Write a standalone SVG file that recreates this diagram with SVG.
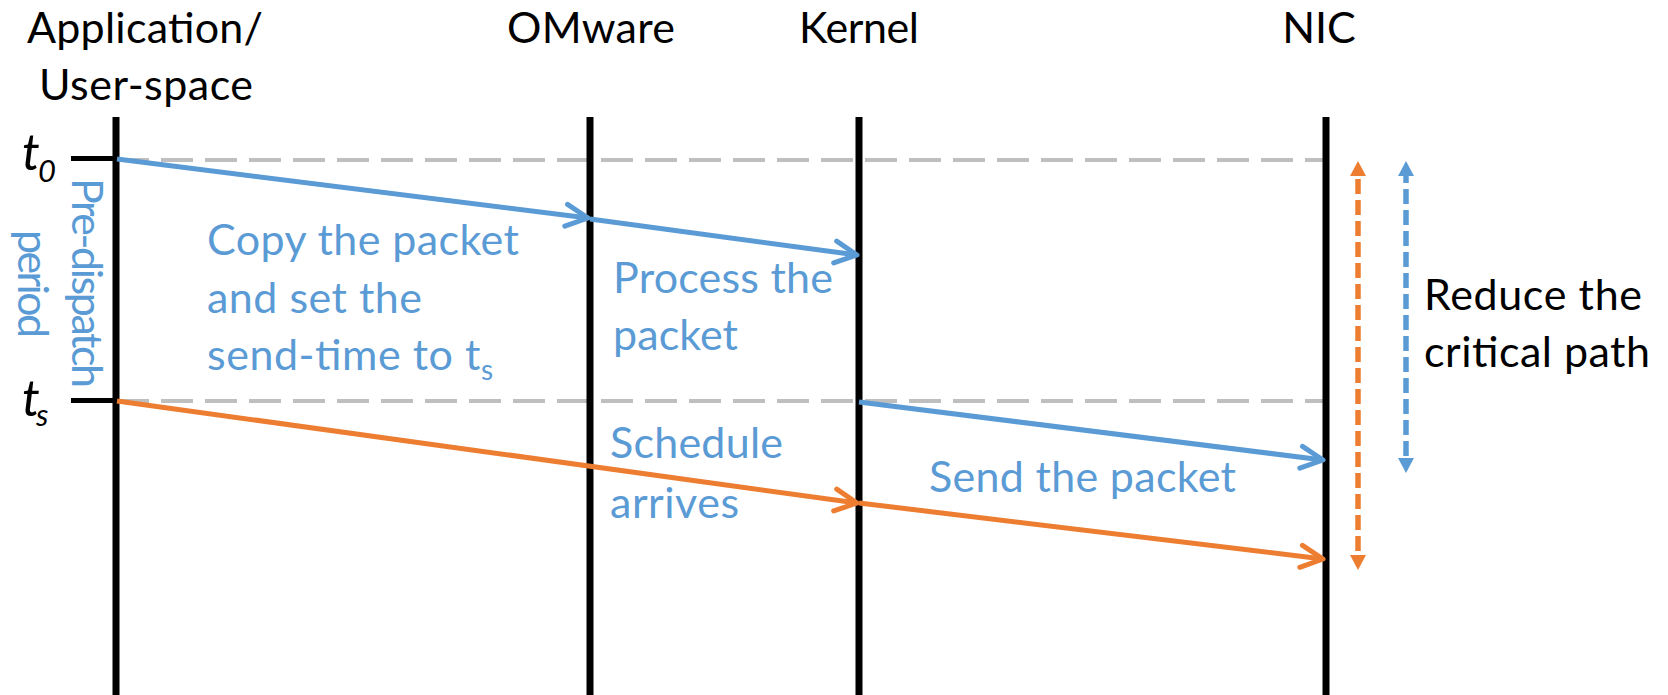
<svg xmlns="http://www.w3.org/2000/svg" width="1668" height="695" viewBox="0 0 1668 695">
  <style>
    .hdr { font-family: Lato, "Open Sans", "Liberation Sans", sans-serif; font-size: 43px; fill: #000000; }
    .lbl { font-family: Lato, "Open Sans", "Liberation Sans", sans-serif; font-size: 43px; fill: #5b9bd5; }
    .sub { font-size: 28px; }
    .time { font-family: Lato, "Open Sans", "Liberation Sans", sans-serif; font-style: italic; font-size: 50px; fill: #000000; }
    .time-sub { font-size: 31px; }
    .life { stroke: #000000; stroke-width: 7; fill: none; }
    .tick { stroke: #000000; stroke-width: 5; fill: none; }
    .guide { stroke: #bfbfbf; stroke-width: 4; stroke-dasharray: 32 12; fill: none; }
    .msg-blue { stroke: #5b9bd5; stroke-width: 5; fill: none; marker-end: url(#chev-blue); }
    .msg-orange { stroke: #ed7d31; stroke-width: 5; fill: none; marker-end: url(#chev-orange); }
    .span-orange { stroke: #ed7d31; stroke-width: 5.5; stroke-dasharray: 15 6; stroke-dashoffset: 18; fill: none; marker-start: url(#tri-orange); marker-end: url(#tri-orange); }
    .span-blue { stroke: #5b9bd5; stroke-width: 5.5; stroke-dasharray: 15 6; stroke-dashoffset: 8; fill: none; marker-start: url(#tri-blue); marker-end: url(#tri-blue); }
  </style>
  <defs>
    <marker id="chev-blue" markerUnits="userSpaceOnUse" orient="auto" refX="0" refY="0" overflow="visible">
      <path d="M-22,-11 L0,0 L-22,11" fill="none" stroke="#5b9bd5" stroke-width="5" stroke-linecap="round" stroke-linejoin="round"/>
    </marker>
    <marker id="chev-orange" markerUnits="userSpaceOnUse" orient="auto" refX="0" refY="0" overflow="visible">
      <path d="M-22,-11 L0,0 L-22,11" fill="none" stroke="#ed7d31" stroke-width="5" stroke-linecap="round" stroke-linejoin="round"/>
    </marker>
    <marker id="tri-orange" markerUnits="userSpaceOnUse" orient="auto-start-reverse" refX="0" refY="0" overflow="visible">
      <path d="M0,-8 L15,0 L0,8 Z" fill="#ed7d31"/>
    </marker>
    <marker id="tri-blue" markerUnits="userSpaceOnUse" orient="auto-start-reverse" refX="0" refY="0" overflow="visible">
      <path d="M0,-8 L15,0 L0,8 Z" fill="#5b9bd5"/>
    </marker>
  </defs>

  <rect x="0" y="0" width="1668" height="695" fill="#ffffff"/>

  <!-- time guides -->
  <g id="time-guides">
    <line class="guide" x1="117" y1="160" x2="1326" y2="160"/>
    <line class="guide" x1="117" y1="401" x2="1326" y2="401"/>
    <line class="tick" x1="71" y1="158.5" x2="116" y2="158.5"/>
    <line class="tick" x1="71" y1="400.5" x2="116" y2="400.5"/>
    <text class="time" x="22" y="170">t<tspan class="time-sub" x="38" dy="12">0</tspan></text>
    <text class="time" x="22" y="416">t<tspan class="time-sub" x="36" dy="10">s</tspan></text>
  </g>

  <!-- lifelines -->
  <g id="app">
    <text class="hdr" x="145" y="43" text-anchor="middle" textLength="236">Application/</text>
    <text class="hdr" x="146" y="100" text-anchor="middle" textLength="214">User-space</text>
    <line class="life" x1="116" y1="117" x2="116" y2="695"/>
  </g>
  <g id="omware">
    <text class="hdr" x="591" y="43" text-anchor="middle" textLength="168">OMware</text>
    <line class="life" x1="590" y1="117" x2="590" y2="695"/>
  </g>
  <g id="kernel">
    <text class="hdr" x="859" y="43" text-anchor="middle" textLength="120">Kernel</text>
    <line class="life" x1="859" y1="117" x2="859" y2="695"/>
  </g>
  <g id="nic">
    <text class="hdr" x="1319" y="43" text-anchor="middle">NIC</text>
    <line class="life" x1="1326" y1="117" x2="1326" y2="695"/>
  </g>

  <!-- messages -->
  <g id="connectors">
    <line class="msg-blue" x1="117" y1="159" x2="588" y2="218"/>
    <line class="msg-blue" x1="590" y1="219" x2="857" y2="255"/>
    <line class="msg-blue" x1="859" y1="402" x2="1323" y2="460"/>
    <line class="msg-orange" x1="117" y1="401" x2="857" y2="503"/>
    <line class="msg-orange" x1="859" y1="503" x2="1323" y2="559"/>
    <line class="span-orange" x1="1358" y1="176" x2="1358" y2="555"/>
    <line class="span-blue" x1="1406" y1="176" x2="1406" y2="458"/>
  </g>

  <!-- step labels -->
  <g id="labels">
    <text class="lbl" transform="translate(72,283) rotate(90)" text-anchor="middle" textLength="210">Pre-dispatch</text>
    <text class="lbl" transform="translate(18,284) rotate(90)" text-anchor="middle" textLength="108">period</text>
    <text class="lbl" x="207" y="255" textLength="312">Copy the packet</text>
    <text class="lbl" x="207" y="313" textLength="215">and set the</text>
    <text class="lbl" x="207" y="370" textLength="286">send-time to t<tspan class="sub" dy="10">s</tspan></text>
    <text class="lbl" x="613" y="293" textLength="220">Process the</text>
    <text class="lbl" x="613" y="350" textLength="125">packet</text>
    <text class="lbl" x="610" y="458" textLength="173">Schedule</text>
    <text class="lbl" x="610" y="518" textLength="129">arrives</text>
    <text class="lbl" x="929" y="492" textLength="307">Send the packet</text>
    <text class="hdr" x="1424" y="310" textLength="218">Reduce the</text>
    <text class="hdr" x="1424" y="367" textLength="226">critical path</text>
  </g>
</svg>
